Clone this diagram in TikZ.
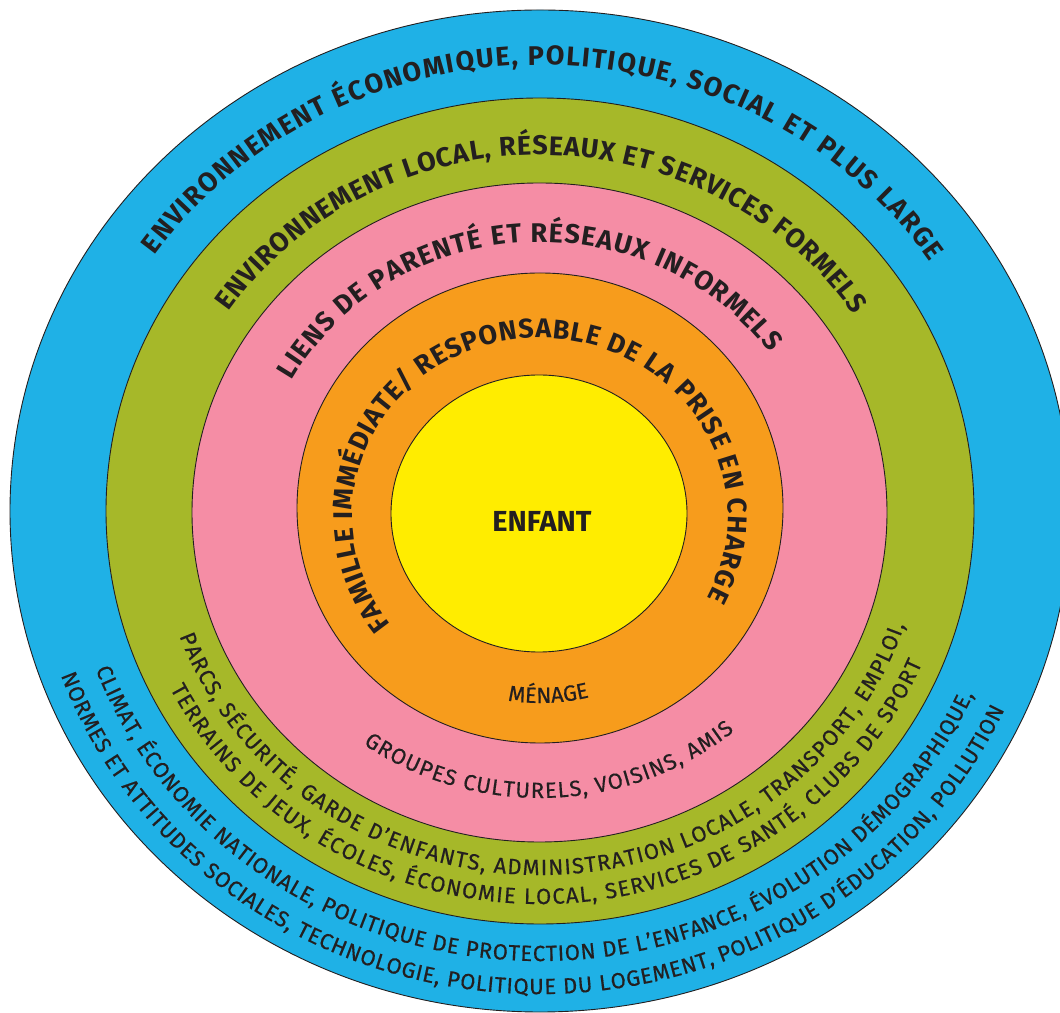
\documentclass[tikz,border=0pt]{standalone}
\usepackage{fontspec}
\setmainfont{Fira Sans}
\newfontfamily\bodyfam{Fira Sans}[FakeBold=0.45]
\usetikzlibrary{decorations.text}
\definecolor{ringblue}{RGB}{31,177,230}
\definecolor{ringgreen}{RGB}{166,184,41}
\definecolor{ringpink}{RGB}{245,141,165}
\definecolor{ringorange}{RGB}{247,156,28}
\definecolor{ringyellow}{RGB}{255,237,0}
\definecolor{inkdark}{RGB}{35,31,32}
\newcommand\ttlfont{\fontsize{27}{27}\selectfont\bfseries\color{inkdark}}
\newcommand\bodyfont{\bodyfam\fontsize{22}{22}\selectfont\color{inkdark}}
\begin{document}
\begin{tikzpicture}[x=1pt,y=1pt,
  ring/.style={draw=inkdark, line width=0.9pt},
  toptext/.style={decorate, decoration={text along path, text align={fit to path}, text={|\ttlfont|#1}}},
  bottext/.style={decorate, decoration={text along path, text align={fit to path}, text={|\bodyfont|#1}}},
  midtext/.style={decorate, decoration={text along path, text align={center}, text={|\bodyfont|#1}}}
]
\useasboundingbox (0,0) rectangle (1060,1012);
\clip (0,0) rectangle (1060,1012);
\coordinate (C) at (540,501);
\coordinate (CO) at (540,496);
% rings
\path[ring, fill=ringblue] (540,501) ellipse[x radius=530, y radius=501];
\path[ring, fill=ringgreen] (540,501) ellipse[x radius=434, y radius=413];
\path[ring, fill=ringpink] (539.5,499.5) ellipse[x radius=347.5, y radius=329.5];
\path[ring, fill=ringorange] (540,504) ellipse[x radius=243, y radius=235];
\path[ring, fill=ringyellow] (539,498.5) ellipse[x radius=148, y radius=138.5];
% titles
\path[toptext={ENVIRONNEMENT ÉCONOMIQUE, POLITIQUE, SOCIAL ET PLUS LARGE}]
  ([shift={(145:470.5 and 446)}]C) arc[start angle=145, end angle=34, x radius=470.5, y radius=446];
\path[toptext={ENVIRONNEMENT LOCAL, RÉSEAUX ET SERVICES FORMELS}]
  ([shift={(146:375.6 and 356)}]C) arc[start angle=146, end angle=33.5, x radius=375.6, y radius=356];
\path[toptext={LIENS DE PARENTÉ ET RÉSEAUX INFORMELS}]
  ([shift={(151:283.8 and 269)}]C) arc[start angle=151, end angle=36, x radius=283.8, y radius=269];
\path[toptext={FAMILLE IMMÉDIATE/ RESPONSABLE DE LA PRISE EN CHARGE}]
  ([shift={(217.5:187.8 and 178)}]CO) arc[start angle=217.5, end angle=-27.3, x radius=187.8, y radius=178];
% body texts
\path[midtext={MÉNAGE}]
  ([shift={(232.5:202.6 and 192)}]C) arc[start angle=232.5, end angle=312.5, x radius=202.6, y radius=192];
\path[bottext={GROUPES CULTURELS, VOISINS, AMIS}]
  ([shift={(234.3:302.8 and 287)}]C) arc[start angle=234.3, end angle=309.9, x radius=302.8, y radius=287];
\path[bottext={PARCS, SÉCURITÉ, GARDE D’ENFANTS, ADMINISTRATION LOCALE, TRANSPORT, EMPLOI,}]
  ([shift={(200.1:384 and 364)}]C) arc[start angle=200.1, end angle=341.7, x radius=384, y radius=364];
\path[bottext={TERRAINS DE JEUX, ÉCOLES, ÉCONOMIE LOCAL, SERVICES DE SANTÉ, CLUBS DE SPORT}]
  ([shift={(206.9:414.6 and 393)}]C) arc[start angle=206.9, end angle=337.2, x radius=414.6, y radius=393];
\path[bottext={CLIMAT, ÉCONOMIE NATIONALE, POLITIQUE DE PROTECTION DE L’ENFANCE, ÉVOLUTION DÉMOGRAPHIQUE,}]
  ([shift={(200.6:474.8 and 450)}]C) arc[start angle=200.6, end angle=335.9, x radius=474.8, y radius=450];
\path[bottext={NORMES ET ATTITUDES SOCIALES, TECHNOLOGIE, POLITIQUE DU LOGEMENT, POLITIQUE D’ÉDUCATION, POLLUTION}]
  ([shift={(199.9:509.6 and 483)}]C) arc[start angle=199.9, end angle=335.7, x radius=509.6, y radius=483];
% centre
\node[font=\fontsize{29}{29}\selectfont\bfseries, text=inkdark] (enfant) at (542,490.5) {ENFANT};
\end{tikzpicture}
\end{document}
